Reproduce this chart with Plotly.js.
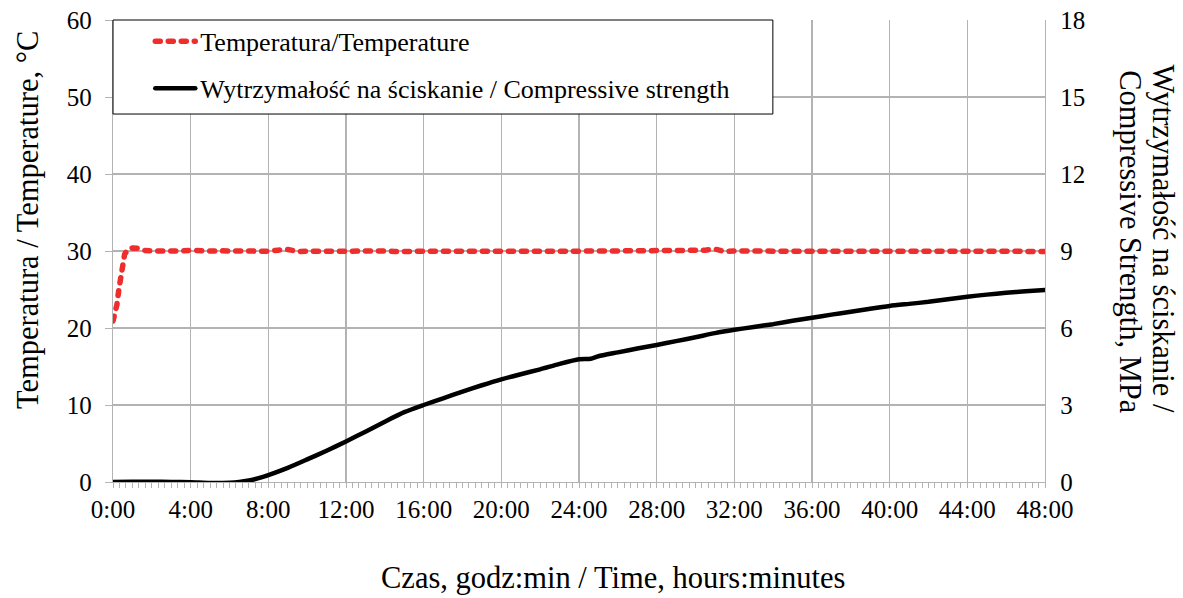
<!DOCTYPE html>
<html><head><meta charset="utf-8">
<script src="https://cdn.plot.ly/plotly-3.0.1.min.js"></script>
<style>html,body{margin:0;padding:0;background:#fff}
.js-line{stroke-linecap:round;stroke-linejoin:round}</style>
</head><body><div id="chart" style="width:1183px;height:598px"></div>
<script>
// Time in hours
const tempHours = [0,0.1,0.2,0.3,0.4,0.5,0.6,0.75,1,1.25,1.5,2,2.5,3,3.5,4,4.5,5,5.5,6,6.5,7,7.5,8,8.5,9,9.5,10,10.5,11,11.5,12,12.5,13,13.5,14,14.5,15,15.5,16,16.5,17,17.5,18,18.5,19,19.5,20,20.5,21,21.5,22,22.5,23,23.5,24,24.5,25,25.5,26,26.5,27,27.5,28,28.5,29,29.5,30,30.5,31,31.5,32,32.5,33,33.5,34,34.5,35,35.5,36,36.5,37,37.5,38,38.5,39,39.5,40,40.5,41,41.5,42,42.5,43,43.5,44,44.5,45,45.5,46,46.5,47,47.5,48];
const tempValues = [20.9,21.9,23.0,25.0,27.0,28.6,29.6,30.1,30.4,30.35,30.1,30.0,29.97,30.0,30.0,30.1,30.0,30.0,30.02,29.98,30.0,30.0,29.95,29.97,30.1,30.2,29.95,29.97,29.96,30.0,30.0,29.98,30.0,30.08,30.1,30.0,29.95,29.94,29.96,29.97,29.97,29.98,29.97,29.97,29.98,29.97,29.97,29.97,29.98,29.97,29.97,29.97,29.98,29.97,29.97,29.97,29.98,30.0,30.05,30.08,30.1,30.05,30.08,30.02,30.0,30.05,30.08,30.02,30.1,30.25,29.92,30.0,30.02,29.98,29.95,29.95,29.96,29.95,29.97,29.97,29.97,29.98,29.97,29.97,29.97,29.98,29.97,29.97,29.97,29.98,29.97,29.97,29.97,29.98,30.08,29.95,29.95,29.96,29.95,29.95,29.96,29.95,29.95,29.95];
const strengthHours = [0,1,2,3,4,5,6,6.5,7,7.5,8,9,10,11,12,13,14,15,16,17,18,19,20,21,22,23,24,24.6,25,26,27,28,29,30,31,32,33,34,35,36,37,38,39,40,41,42,43,44,45,46,47,48];
const strengthValues = [0,0.01,0.01,0.0,-0.01,-0.04,-0.03,0.0,0.06,0.15,0.27,0.55,0.88,1.22,1.58,1.96,2.35,2.72,3.0,3.26,3.52,3.77,4.0,4.2,4.39,4.6,4.78,4.8,4.9,5.05,5.2,5.34,5.49,5.64,5.8,5.93,6.04,6.15,6.28,6.4,6.52,6.63,6.75,6.86,6.94,7.02,7.12,7.22,7.3,7.37,7.43,7.48];
const tickHours = [0,4,8,12,16,20,24,28,32,36,40,44,48];
const tickLabels = ["0:00","4:00","8:00","12:00","16:00","20:00","24:00","28:00","32:00","36:00","40:00","44:00","48:00"];
const seriesNames = ["Temperatura/Temperature","Wytrzymałość na ściskanie / Compressive strength"];

const FONT = "Liberation Serif, Times New Roman, serif";
const GRID = "#b3b3b3";

const traces = [
  {x: tempHours, y: tempValues, name: seriesNames[0], type: "scatter", mode: "lines",
   line: {color: "#ee2d2d", width: 5.5, dash: "5px,8px"}, yaxis: "y", legend: "legend"},
  {x: strengthHours, y: strengthValues, name: seriesNames[1], type: "scatter", mode: "lines",
   line: {color: "#000000", width: 4.5, shape: "spline", smoothing: 0.6}, yaxis: "y2", legend: "legend2"}
];

const legendCommon = {xanchor: "left", yanchor: "middle", bgcolor: "rgba(0,0,0,0)", borderwidth: 0,
  itemwidth: 40, font: {family: FONT, size: 26, color: "#000"}};

const layout = {
  width: 1183, height: 598,
  margin: {l: 113, r: 138, t: 20, b: 116},
  paper_bgcolor: "#fff", plot_bgcolor: "#fff",
  font: {family: FONT, color: "#000"},
  xaxis: {range: [0, 48], tickmode: "array", tickvals: tickHours, ticktext: tickLabels,
    showgrid: true, gridcolor: GRID, gridwidth: 1.3, zeroline: false,
    showline: true, linecolor: GRID, linewidth: 1.3,
    ticks: "outside", ticklen: 5, tickcolor: GRID, tickwidth: 1,
    minor: {tick0: 0, dtick: 1/3, ticks: "outside", ticklen: 5, tickcolor: GRID, tickwidth: 1, showgrid: false},
    tickfont: {family: FONT, size: 25, color: "#000"}},
  yaxis: {range: [0, 60], tickmode: "linear", tick0: 0, dtick: 10,
    showgrid: true, gridcolor: GRID, gridwidth: 1.3, zeroline: false,
    showline: true, linecolor: GRID, linewidth: 1.3,
    ticks: "outside", ticklen: 7, tickcolor: GRID, ticklabelstandoff: 8,
    tickfont: {family: FONT, size: 25, color: "#000"}},
  yaxis2: {range: [0, 18], tickmode: "linear", tick0: 0, dtick: 3, overlaying: "y", side: "right",
    showgrid: false, zeroline: false, showline: true, linecolor: GRID, linewidth: 1.3,
    ticks: "", ticklabelstandoff: 9,
    tickfont: {family: FONT, size: 25, color: "#000"}},
  showlegend: true,
  legend: Object.assign({x: 0.040, y: 0.954}, legendCommon),
  legend2: Object.assign({x: 0.040, y: 0.852}, legendCommon),
  shapes: [{type: "rect", xref: "paper", yref: "paper", x0: 0, x1: 0.708, y0: 0.7965, y1: 1,
    line: {color: "#000", width: 1}, fillcolor: "#fff", layer: "above"}],
  annotations: [
    {text: "Temperatura / Temperature, °C", xref: "paper", yref: "paper", x: -0.0912, y: 0.567,
     xanchor: "center", yanchor: "middle",
     textangle: -90, showarrow: false, font: {family: FONT, size: 30.5, color: "#000"}},
    {text: "Czas, godz:min / Time, hours:minutes", xref: "paper", yref: "paper", x: 0.5365, y: -0.2078,
     xanchor: "center", yanchor: "middle",
     showarrow: false, font: {family: FONT, size: 30.5, color: "#000"}},
    {text: "Wytrzymałość na ściskanie /", xref: "paper", yref: "paper", x: 1.1266, y: 0.527,
     xanchor: "center", yanchor: "middle",
     textangle: 90, showarrow: false, font: {family: FONT, size: 30.5, color: "#000"}},
    {text: "Compressive Strength, MPa", xref: "paper", yref: "paper", x: 1.0912, y: 0.519,
     xanchor: "center", yanchor: "middle",
     textangle: 90, showarrow: false, font: {family: FONT, size: 30.5, color: "#000"}}
  ]
};

Plotly.newPlot("chart", traces, layout, {displayModeBar: false, staticPlot: true});
</script>
</body></html>
